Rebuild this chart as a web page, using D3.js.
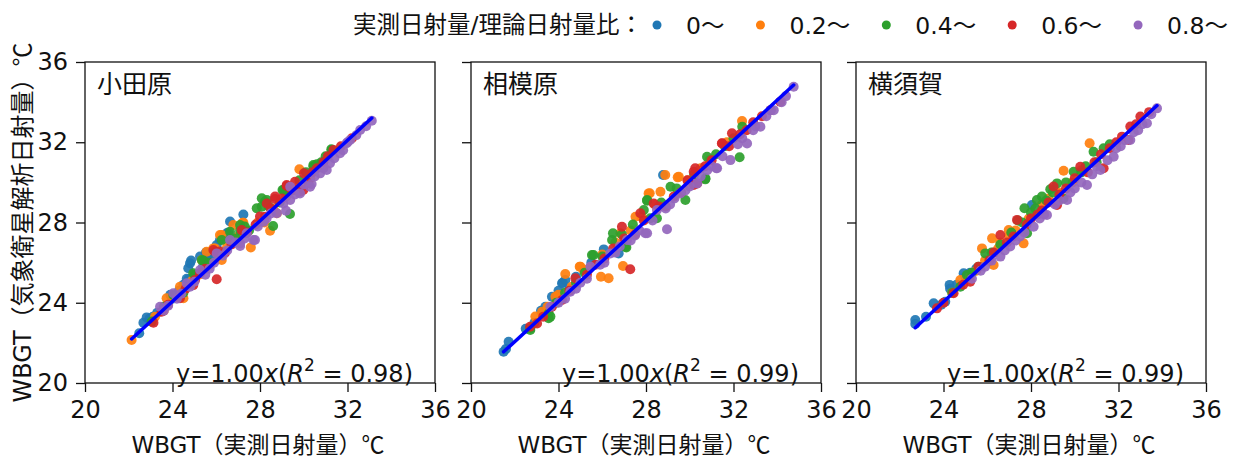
<!DOCTYPE html>
<html>
<head>
<meta charset="utf-8">
<script src="https://cdn.jsdelivr.net/npm/d3@7"></script>
<style>
body { margin: 0; background: #fff; }
text { font-family: "DejaVu Sans", "Noto Sans CJK JP", sans-serif; fill: #111; }
.cjk { font-family: "Noto Sans CJK JP", sans-serif; }
</style>
</head>
<body>
<script>
// stations (one panel each)
var stations = ["小田原", "相模原", "横須賀"];
// ratio classes (measured / theoretical solar radiation)
var classLabels = ["0～", "0.2～", "0.4～", "0.6～", "0.8～"];
var tickValues = [20, 24, 28, 32, 36];
var fitSlope = [1.003, 1.003, 1.002];
var fitR2 = [0.98, 0.99, 0.99];

// [measured WBGT, satellite WBGT]
var odawara00 = [[22.48,22.48],[22.67,23.0],[22.82,23.27],[22.95,23.2],[23.1,23.3],[23.3,23.5],[23.6,23.7],[23.9,24.4],[24.0,24.2],
  [24.3,24.6],[24.5,24.9],[24.73,25.17],[24.65,25.2],[24.72,25.72],[24.8,25.97],[24.85,26.1],[25.0,25.4],[25.26,26.3],[25.53,26.5],
  [25.26,25.47],[25.4,25.8],[25.6,26.2],[25.8,26.3],[26.02,26.88],[26.17,27.13],[26.48,27.46],[26.55,27.5],[26.63,28.05],[27.24,28.4]];
var odawara02 = [[22.13,22.14],[23.2,23.3],[23.6,23.6],[23.73,24.22],[24.1,24.3],[24.5,24.22],[24.34,24.8],[24.9,25.1],[25.2,25.4],
  [25.34,26.13],[25.56,26.54],[25.7,25.9],[25.87,26.71],[25.94,26.71],[26.17,27.38],[26.25,27.38],[26.25,26.13],[26.5,26.8],
  [26.78,27.87],[27.0,27.3],[27.21,27.99],[27.24,27.99],[27.58,26.76],[27.9,28.0],[28.46,27.59],[28.2,28.0],[28.6,28.7],
  [28.77,28.46],[29.2,29.3],[29.5,29.6],[29.8,30.65],[30.3,30.2]];
var odawara04 = [[23.05,23.06],[23.6,23.8],[24.04,24.39],[24.5,24.5],[24.95,25.47],[25.03,25.38],[25.41,26.1],[25.34,26.13],
  [25.7,26.0],[26.0,26.5],[26.25,27.13],[26.63,27.16],[26.63,27.54],[26.9,27.2],[27.09,27.59],[27.09,27.87],[27.3,27.8],[27.5,27.6],
  [27.85,28.71],[28.08,28.79],[28.08,29.21],[28.23,29.04],[28.31,29.12],[28.4,28.8],[28.6,27.83],[28.9,29.0],[29.3,29.5],
  [29.37,28.42],[29.07,29.62],[29.03,29.62],[29.8,30.1],[30.1,30.5],[30.44,30.87],[30.44,30.78],[30.6,30.9],[30.8,31.0],
  [31.0,31.3],[31.26,31.65],[31.28,31.61]];
var odawara06 = [[23.13,23.0],[23.5,23.55],[23.8,23.9],[24.34,24.22],[24.6,24.7],[24.95,24.88],[25.03,25.13],[25.26,25.47],
  [25.5,25.7],[26.02,25.17],[25.87,26.63],[25.95,26.54],[26.17,26.55],[26.4,26.5],[26.7,26.9],[27.16,27.62],[27.4,27.5],
  [27.8,27.9],[28.0,28.3],[28.23,28.29],[28.31,28.95],[28.5,28.7],[28.69,29.17],[28.69,29.29],[29.0,29.2],[29.22,29.82],
  [29.22,29.87],[29.4,29.7],[29.53,29.62],[29.6,30.03],[29.83,29.54],[29.98,29.62],[30.01,30.45],[30.21,29.98],[30.4,30.5],
  [30.6,30.7],[30.9,31.0],[31.1,31.3],[31.36,31.61],[31.7,31.8],[32.2,32.2]];
var odawara08 = [[23.43,23.8],[23.6,23.6],[23.8,23.85],[24.04,24.47],[24.2,24.2],[24.4,24.45],[24.65,24.97],[24.8,24.8],
  [25.0,25.05],[25.26,25.63],[25.5,25.4],[25.7,25.7],[25.9,26.0],[26.02,26.46],[26.3,26.35],[26.5,26.6],[26.63,27.13],
  [26.9,27.0],[27.09,26.83],[27.09,26.96],[27.3,27.2],[27.39,27.46],[27.7,27.13],[27.77,27.13],[27.9,27.8],[28.16,28.04],
  [28.3,28.2],[28.5,28.45],[28.77,28.46],[29.07,28.95],[29.19,28.59],[29.38,29.12],[29.38,29.78],[29.6,29.4],[29.83,29.45],
  [30.0,29.9],[30.29,29.78],[30.36,29.92],[30.5,30.3],[30.75,30.45],[30.9,30.7],[31.05,30.62],[31.2,30.95],[31.4,31.2],
  [31.66,31.45],[31.8,31.6],[31.96,31.95],[32.0,32.0],[32.12,32.11],[32.4,32.35],[32.58,32.61],[32.85,32.8],[33.11,33.07]];

var sagamihara00 = [[21.49,21.56],[21.6,21.7],[21.72,22.06],[22.5,22.7],[22.9,23.0],[23.2,23.6],[23.4,23.8],[23.7,24.3],
  [24.0,24.6],[24.16,24.97],[24.2,25.0],[24.31,25.13],[24.5,24.7],[24.8,25.3],[25.5,26.0],[26.07,26.66],[26.75,26.46],[28.78,30.37]];
var sagamihara02 = [[22.94,23.31],[23.25,23.55],[23.5,23.8],[23.86,24.3],[24.0,24.4],[24.31,25.43],[24.6,24.8],[24.97,25.8],
  [25.0,25.8],[25.15,25.63],[25.4,25.7],[25.94,25.3],[26.0,26.4],[26.29,25.22],[26.6,27.0],[26.95,25.83],[26.83,27.46],
  [27.3,27.6],[27.52,28.29],[27.8,28.3],[28.12,29.45],[28.17,29.46],[28.4,28.9],[28.66,29.53],[28.88,30.37],[29.45,30.25],
  [29.5,30.28],[29.9,30.1],[30.5,30.7],[30.9,31.1],[31.7,32.0],[32.39,33.06]];
var sagamihara04 = [[22.71,22.64],[22.71,22.73],[23.55,23.23],[23.55,23.47],[23.63,23.31],[23.9,24.0],[24.3,24.5],[24.8,25.0],
  [25.2,25.5],[25.53,26.38],[25.6,26.38],[26.0,26.3],[26.45,27.13],[26.49,27.46],[26.9,27.4],[27.06,26.79],[27.1,26.76],
  [27.4,27.9],[27.9,28.62],[28.05,29.09],[28.05,29.12],[28.2,28.21],[28.5,28.21],[28.7,29.0],[29.12,29.78],[29.4,29.7],
  [29.8,29.12],[30.2,30.4],[30.71,30.15],[30.72,30.2],[30.79,31.28],[31.2,31.4],[31.6,31.8],[32.0,32.2],[32.28,31.25],[32.4,32.77]];
var sagamihara06 = [[22.7,22.8],[23.02,22.97],[23.3,23.3],[23.7,23.8],[24.16,24.14],[24.5,24.6],[24.77,25.22],[25.3,25.4],
  [25.7,25.9],[26.1,26.2],[26.5,26.7],[27.0,27.2],[27.28,25.67],[26.9,27.79],[27.5,27.4],[27.74,28.46],[27.9,28.1],[28.35,28.95],
  [28.6,28.8],[28.9,28.8],[29.27,29.29],[29.6,29.5],[29.9,30.1],[30.18,29.87],[30.18,30.53],[30.25,30.7],[30.34,29.95],
  [30.7,30.8],[31.0,31.1],[31.47,31.95],[31.48,31.94],[31.8,31.8],[31.93,32.45],[32.3,32.4],[32.6,32.6],[32.9,33.0],
  [33.3,33.3],[33.7,33.6],[34.14,34.02]];
var sagamihara08 = [[23.63,23.8],[24.0,24.0],[24.3,24.2],[24.54,24.55],[24.8,24.7],[25.0,25.0],[25.3,25.2],[25.46,25.8],
  [25.9,25.9],[26.1,26.0],[26.37,26.46],[26.6,26.5],[26.8,26.8],[27.13,27.13],[27.3,27.1],[27.5,27.35],[27.7,27.6],[27.97,27.46],
  [28.05,27.46],[28.3,28.1],[28.96,27.66],[28.5,28.62],[28.9,28.7],[29.1,28.9],[29.3,29.2],[29.57,29.45],[29.8,29.6],
  [30.0,29.8],[30.34,29.95],[30.5,30.3],[30.8,30.6],[31.0,30.8],[31.21,30.7],[31.25,30.7],[31.5,31.3],[31.86,31.11],
  [32.2,31.9],[32.4,32.2],[32.62,31.94],[32.9,32.6],[33.0,32.8],[33.23,32.77],[33.5,33.3],[33.7,33.6],[33.84,33.6],
  [34.2,34.0],[34.4,34.3],[34.75,34.77]];

var yokosuka00 = [[22.71,23.14],[22.71,22.94],[23.2,23.3],[23.55,23.97],[23.9,23.9],[24.08,24.05],[24.28,24.89],[24.3,24.7],
  [24.6,24.9],[24.92,25.47],[25.0,25.3],[25.22,25.5],[25.5,25.7],[28.04,28.87]];
var yokosuka02 = [[24.4,24.5],[24.77,25.13],[25.2,25.3],[25.5,25.6],[25.76,26.71],[25.9,26.1],[26.22,27.21],[26.29,25.88],
  [26.5,26.7],[26.6,27.0],[26.98,27.63],[27.0,27.3],[27.3,27.6],[27.66,26.96],[27.9,28.2],[28.5,28.9],[28.8,29.2],[29.3,29.5],
  [29.49,30.58],[29.9,30.0],[30.3,30.6],[30.68,31.95]];
var yokosuka04 = [[24.4,24.5],[24.77,24.8],[25.07,25.38],[25.3,25.5],[25.6,25.8],[25.91,26.46],[26.2,26.5],[26.6,26.9],
  [27.1,27.5],[27.4,28.1],[27.6,28.0],[27.7,28.71],[27.82,27.46],[28.0,28.5],[28.2,28.7],[28.27,29.12],[28.5,29.3],[28.7,29.1],
  [28.88,29.66],[29.0,29.5],[29.19,29.95],[29.49,29.2],[29.6,30.0],[29.95,30.53],[30.3,30.5],[30.5,30.8],[30.86,31.53],
  [31.0,31.0],[31.32,31.7],[31.6,31.9]];
var yokosuka06 = [[23.7,23.72],[24.0,24.0],[24.46,24.47],[24.9,24.9],[25.22,25.05],[25.6,25.8],[26.1,26.1],[26.3,26.5],
  [26.6,27.38],[26.9,27.0],[27.2,27.3],[27.36,28.13],[27.8,27.9],[28.0,28.2],[28.3,28.4],[28.5,28.6],[28.8,29.0],[29.03,29.79],
  [29.19,28.87],[29.3,29.4],[29.6,29.7],[30.0,30.2],[30.25,30.78],[30.6,30.5],[30.9,31.0],[31.2,31.4],[31.32,30.7],[31.6,31.7],
  [31.9,32.0],[32.16,32.28],[32.46,32.11],[32.54,32.78],[32.8,32.9],[33.0,33.28],[33.4,33.5]];
var yokosuka08 = [[25.3,25.2],[25.7,25.6],[25.9,25.8],[26.2,26.1],[26.6,26.3],[26.8,26.6],[27.05,26.8],[27.3,27.1],[27.5,27.3],
  [27.7,27.5],[28.12,27.79],[28.4,28.2],[28.6,28.4],[28.73,28.37],[29.1,28.9],[29.3,29.1],[29.65,29.12],[29.8,29.5],[30.0,29.7],
  [30.3,30.0],[30.56,29.87],[30.8,30.4],[31.0,30.8],[31.17,30.62],[31.5,31.1],[31.78,31.28],[31.9,31.7],[32.1,31.8],[32.3,32.1],
  [32.54,32.11],[32.7,32.5],[32.9,32.6],[33.1,32.9],[33.3,32.95],[33.5,33.4],[33.76,33.69]];

var panelData = [
  [odawara00, odawara02, odawara04, odawara06, odawara08],
  [sagamihara00, sagamihara02, sagamihara04, sagamihara06, sagamihara08],
  [yokosuka00, yokosuka02, yokosuka04, yokosuka06, yokosuka08]
];

var colors = ["#1f77b4", "#ff7f0e", "#2ca02c", "#d62728", "#9467bd"];

var width = 1236, height = 459;
var panelW = 350, panelH = 321,
    panelTop = 62,
    panelLeft = [85, 471, 856];

var svg = d3.select("body").append("svg")
    .attr("width", width)
    .attr("height", height);

var x = d3.scaleLinear().domain([20, 36]).range([0, panelW]);
var y = d3.scaleLinear().domain([20, 36]).range([panelH, 0]);

// label text with the degree sign taken from the CJK font
function celsiusLabel(sel, base){
    sel.append("tspan").text(base);
    sel.append("tspan").attr("class", "cjk").text("℃");
}

stations.forEach(function(name, p){
    var g = svg.append("g")
        .attr("transform", "translate(" + panelLeft[p] + "," + panelTop + ")");

    // points, one series per ratio class
    panelData[p].forEach(function(series, c){
        g.append("g").selectAll("circle")
            .data(series)
            .enter()
            .append("circle")
            .attr("cx", function(d){ return x(d[0]); })
            .attr("cy", function(d){ return y(d[1]); })
            .attr("r", 5)
            .attr("fill", colors[c])
            .attr("fill-opacity", 0.92);
    });

    // fitted line y = a x over the measured range
    var all = d3.merge(panelData[p]);
    var xExt = d3.extent(all, function(d){ return d[0]; });
    g.append("line")
        .attr("x1", x(xExt[0])).attr("y1", y(fitSlope[p] * xExt[0]))
        .attr("x2", x(xExt[1])).attr("y2", y(fitSlope[p] * xExt[1]))
        .attr("stroke", "#0000ff")
        .attr("stroke-width", 3.5)
        .attr("stroke-linecap", "round");

    // axes
    var xAxis = g.append("g")
        .attr("transform", "translate(0," + panelH + ")")
        .call(d3.axisBottom(x).tickValues(tickValues).tickSize(9).tickPadding(9));
    var yAxis = g.append("g")
        .call(d3.axisLeft(y).tickValues(tickValues).tickSize(9).tickPadding(8)
            .tickFormat(p == 0 ? d3.format("d") : function(){ return ""; }));
    [xAxis, yAxis].forEach(function(a){
        a.select(".domain").remove();
        a.selectAll("line").attr("stroke", "#111").attr("stroke-width", 1.3);
        a.selectAll("text").attr("font-size", 24).attr("fill", "#111")
            .style("font-family", "'DejaVu Sans', sans-serif");
    });

    // frame
    g.append("rect")
        .attr("width", panelW).attr("height", panelH)
        .attr("fill", "none")
        .attr("stroke", "#111")
        .attr("stroke-width", 1.3);

    // station name
    g.append("text")
        .attr("x", 12).attr("y", 31)
        .attr("font-size", 25)
        .text(name);

    // fit annotation
    var ann = g.append("text")
        .attr("x", panelW - 22).attr("y", panelH - 1)
        .attr("text-anchor", "end")
        .attr("font-size", 24);
    ann.append("tspan").text("y=" + fitSlope[p].toFixed(2));
    ann.append("tspan").attr("font-style", "italic").text("x");
    ann.append("tspan").text("(");
    ann.append("tspan").attr("font-style", "italic").text("R");
    ann.append("tspan").attr("font-size", 17).attr("dy", -11).text("2");
    ann.append("tspan").attr("dy", 11).text(" = " + fitR2[p].toFixed(2) + ")");

    // x label
    g.append("text")
        .attr("x", panelW / 2 - 2).attr("y", panelH + 70)
        .attr("text-anchor", "middle")
        .attr("font-size", 23)
        .call(celsiusLabel, "WBGT（実測日射量）");
});

// y label
svg.append("text")
    .attr("transform", "translate(31," + (panelTop + panelH / 2) + ") rotate(-90)")
    .attr("text-anchor", "middle")
    .attr("font-size", 24)
    .call(celsiusLabel, "WBGT（気象衛星解析日射量）");

// legend
var legend = svg.append("g").attr("transform", "translate(0,25)");
legend.append("text")
    .attr("x", 643).attr("y", 8)
    .attr("text-anchor", "end")
    .attr("font-size", 23.5)
    .text("実測日射量/理論日射量比：");

var lx = 657;
classLabels.forEach(function(lab, c){
    legend.append("circle")
        .attr("cx", lx).attr("cy", 0)
        .attr("r", 4.5)
        .attr("fill", colors[c]);
    var t = legend.append("text")
        .attr("x", lx + 29).attr("y", 9)
        .attr("font-size", 23.5)
        .text(lab);
    lx = lx + 29 + t.node().getComputedTextLength() + 36;
});
</script>
</body>
</html>
